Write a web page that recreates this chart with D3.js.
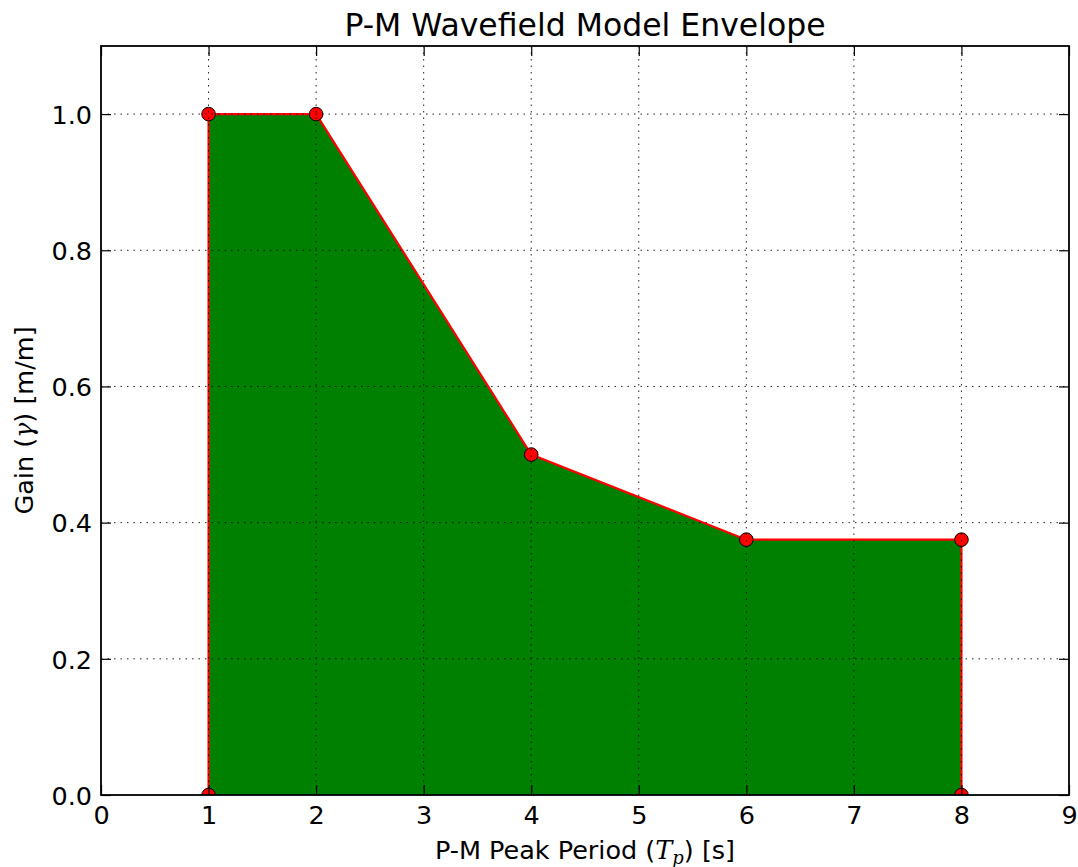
<!DOCTYPE html>
<html><head><meta charset="utf-8">
<script src="https://cdn.jsdelivr.net/npm/d3@7"></script>
<style>
body{margin:0;background:#fff;}
text{font-family:"DejaVu Sans",sans-serif;fill:#000;}
</style></head><body>
<svg id="c" width="1078" height="867"></svg>
<script>
const periods = [1, 1, 2, 4, 6, 8, 8];
const gains = [0, 1, 1, 0.5, 0.375, 0.375, 0];
const xTicks = [0,1,2,3,4,5,6,7,8,9];
const yTicks = [0,0.2,0.4,0.6,0.8,1.0];
const xDomain = [0, 9];
const yDomain = [0, 1.1];

const W = 1078, H = 867;
const m = {l:101, r:1078-1069, t:46, b:867-795};
const svg = d3.select("#c");
const x = d3.scaleLinear().domain(xDomain).range([m.l, W-m.r]);
const y = d3.scaleLinear().domain(yDomain).range([H-m.b, m.t]);
const pts = periods.map((p,i)=>({x:p,y:gains[i]}));
const FS = "25.5px";

svg.append("clipPath").attr("id","clip").append("rect")
  .attr("x",m.l).attr("y",m.t).attr("width",x(9)-m.l).attr("height",y(0)-m.t);

const g = svg.append("g").attr("clip-path","url(#clip)");
g.append("path")
  .attr("d", d3.line().x(d=>x(d.x)).y(d=>y(d.y))(pts)+"Z")
  .attr("fill","#008000").attr("stroke","none");
g.append("path").datum(pts)
  .attr("d", d3.line().x(d=>x(d.x)).y(d=>y(d.y)))
  .attr("fill","none").attr("stroke","#ff0000").attr("stroke-width",2.2);
g.selectAll("circle").data(pts).join("circle")
  .attr("cx",d=>x(d.x)).attr("cy",d=>y(d.y)).attr("r",6.8)
  .attr("fill","#ff0000").attr("stroke","#000").attr("stroke-width",1);

const grid = svg.append("g").attr("stroke","#000").attr("stroke-width",1).attr("stroke-dasharray","1.5,5").attr("opacity",0.85);
grid.selectAll(".gx").data(xTicks.slice(1,-1)).join("line")
  .attr("x1",d=>x(d)).attr("x2",d=>x(d)).attr("y1",y(yDomain[1])).attr("y2",y(0));
grid.selectAll(".gy").data(yTicks.slice(1)).join("line")
  .attr("y1",d=>y(d)).attr("y2",d=>y(d)).attr("x1",x(0)).attr("x2",x(9));

const tl = 10;
const xb = svg.append("g").attr("transform",`translate(0,${y(0)})`)
  .call(d3.axisBottom(x).tickValues(xTicks).tickSize(-tl).tickPadding(11).tickFormat(d3.format("d")));
const xt = svg.append("g").attr("transform",`translate(0,${y(yDomain[1])})`)
  .call(d3.axisTop(x).tickValues(xTicks).tickSize(-tl).tickFormat(""));
const yl = svg.append("g").attr("transform",`translate(${x(0)},0)`)
  .call(d3.axisLeft(y).tickValues(yTicks).tickSize(-tl).tickPadding(9).tickFormat(d3.format(".1f")));
const yr = svg.append("g").attr("transform",`translate(${x(9)},0)`)
  .call(d3.axisRight(y).tickValues(yTicks).tickSize(-tl).tickFormat(""));
[xb,xt,yl,yr].forEach(a=>{
  a.select(".domain").remove();
  a.selectAll("line").attr("stroke","#000").attr("stroke-width",1.2);
  a.selectAll("text").style("font-family","'DejaVu Sans',sans-serif").style("font-size",FS).attr("fill","#000");
});
xb.selectAll("text").attr("dy","0.71em");
yl.selectAll("text").attr("dy","0.36em");

svg.append("rect").attr("x",m.l).attr("y",m.t).attr("width",x(9)-m.l).attr("height",y(0)-m.t)
  .attr("fill","none").attr("stroke","#000").attr("stroke-width",1.8);

svg.append("text").attr("x",(x(0)+x(9))/2).attr("y",36).attr("text-anchor","middle")
  .style("font-size","31.5px").text("P-M Wavefield Model Envelope");

const xlab = svg.append("text").attr("x",(x(0)+x(9))/2).attr("y",859).attr("text-anchor","middle").style("font-size",FS);
xlab.append("tspan").text("P-M Peak Period (");
xlab.append("tspan").style("font-family","'DejaVu Serif',serif").style("font-style","italic").text("T");
xlab.append("tspan").style("font-family","'DejaVu Serif',serif").style("font-style","italic").style("font-size","18px").attr("dy","5").text("p");
xlab.append("tspan").attr("dy","-5").text(") [s]");

const ylab = svg.append("text").attr("transform",`translate(33,${(y(0)+y(yDomain[1]))/2}) rotate(-90)`)
  .attr("text-anchor","middle").style("font-size",FS);
ylab.append("tspan").text("Gain (");
ylab.append("tspan").style("font-family","'DejaVu Serif',serif").style("font-style","italic").text("γ");
ylab.append("tspan").text(") [m/m]");
</script>
</body></html>
